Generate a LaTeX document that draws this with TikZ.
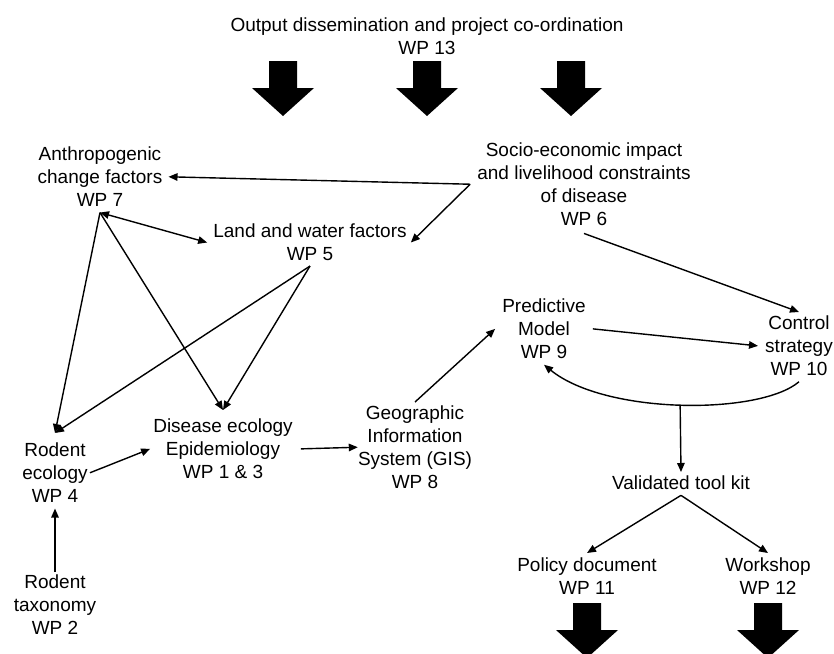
\documentclass[tikz,border=0pt]{standalone}
\usepackage{fontspec}
\setmainfont{Liberation Sans}
\usetikzlibrary{arrows.meta}

\begin{document}
\begin{tikzpicture}[x=1pt,y=-1pt,>={Triangle[length=9pt,width=7.5pt]}]
	\tikzstyle{wp}=[align=center,inner sep=0pt,anchor=north,font=\fontsize{19}{22.7}\selectfont]
	\tikzstyle{link}=[draw,line width=1.4pt,->]
	\tikzstyle{link both}=[link,<->]

	\clip (0,0) rectangle (834,653);

	\node[wp] (wp13) at (427,18) {Output dissemination and project co-ordination\\WP 13};
	\node[wp] (anth) at (100,147) {Anthropogenic\\change factors\\WP 7};
	\node[wp] (socio) at (584,143) {Socio-economic impact\\and livelihood constraints\\of disease\\WP 6};
	\node[wp] (land) at (310,224) {Land and water factors\\WP 5};
	\node[wp] (pred) at (544,299) {Predictive\\Model\\WP 9};
	\node[wp] (ctrl) at (799,316) {Control\\strategy\\WP 10};
	\node[wp] (gis) at (415,406) {Geographic\\Information\\System (GIS)\\WP 8};
	\node[wp] (dis) at (223,419) {Disease ecology\\Epidemiology\\WP 1 \& 3};
	\node[wp] (rodeco) at (55,443) {Rodent\\ecology\\WP 4};
	\node[wp] (valid) at (681,476) {Validated tool kit};
	\node[wp] (policy) at (587,558) {Policy document\\WP 11};
	\node[wp] (work) at (768,558) {Workshop\\WP 12};
	\node[wp] (rodtax) at (55,575) {Rodent\\taxonomy\\WP 2};

	% block arrows
	\foreach \x in {283,427,571}
		\fill (\x-14,61) -- (\x+14,61) -- (\x+14,88) -- (\x+31,88) -- (\x,116) -- (\x-31,88) -- (\x-14,88) -- cycle;
	\foreach \x in {587,768}
		\fill (\x-14,603) -- (\x+14,603) -- (\x+14,630) -- (\x+31,630) -- (\x,658) -- (\x-31,630) -- (\x-14,630) -- cycle;

	\coordinate (hub) at ([xshift=-7pt]socio.west);
	\draw[link] (hub) -- ([xshift=6pt]anth.east);
	\draw[link] (hub) -- ([xshift=4pt]land.east);
	\draw[link both] ([yshift=-6pt]anth.south) -- ([xshift=-6pt]land.west);
	\draw[link] ([yshift=-6pt]anth.south) -- ([yshift=9pt]dis.north);
	\draw[link] ([yshift=-6pt]anth.south) -- ([yshift=10pt]rodeco.north);
	\draw[link] ([yshift=-5pt]land.south) -- ([yshift=9pt]dis.north);
	\draw[link] ([yshift=-5pt]land.south) -- ([yshift=10pt]rodeco.north);
	\draw[link] ([yshift=3pt]rodtax.north) -- ([yshift=-6pt]rodeco.south);
	\draw[link] ([xshift=2pt]rodeco.east) -- ([xshift=-3pt]dis.west);
	\draw[link] ([xshift=8pt]dis.east) -- (gis.west);
	\draw[link] ([yshift=4pt]gis.north) -- ([xshift=-7pt]pred.west);
	\draw[link] ([xshift=7pt]pred.east) -- ([xshift=-7pt]ctrl.west);
	\draw[link] ([yshift=-8pt]socio.south) -- ([yshift=4pt]ctrl.north);
	\draw[link] ([yshift=-6pt]ctrl.south) .. controls (760,415) and (606,415) .. ([yshift=-6pt]pred.south) coordinate[pos=0.5] (loop);
	\draw[link] (loop) -- ([yshift=4pt]valid.north);
	\draw[link] ([yshift=-5pt]valid.south) -- ([yshift=5pt]policy.north);
	\draw[link] ([yshift=-5pt]valid.south) -- ([yshift=5pt]work.north);
\end{tikzpicture}
\end{document}
